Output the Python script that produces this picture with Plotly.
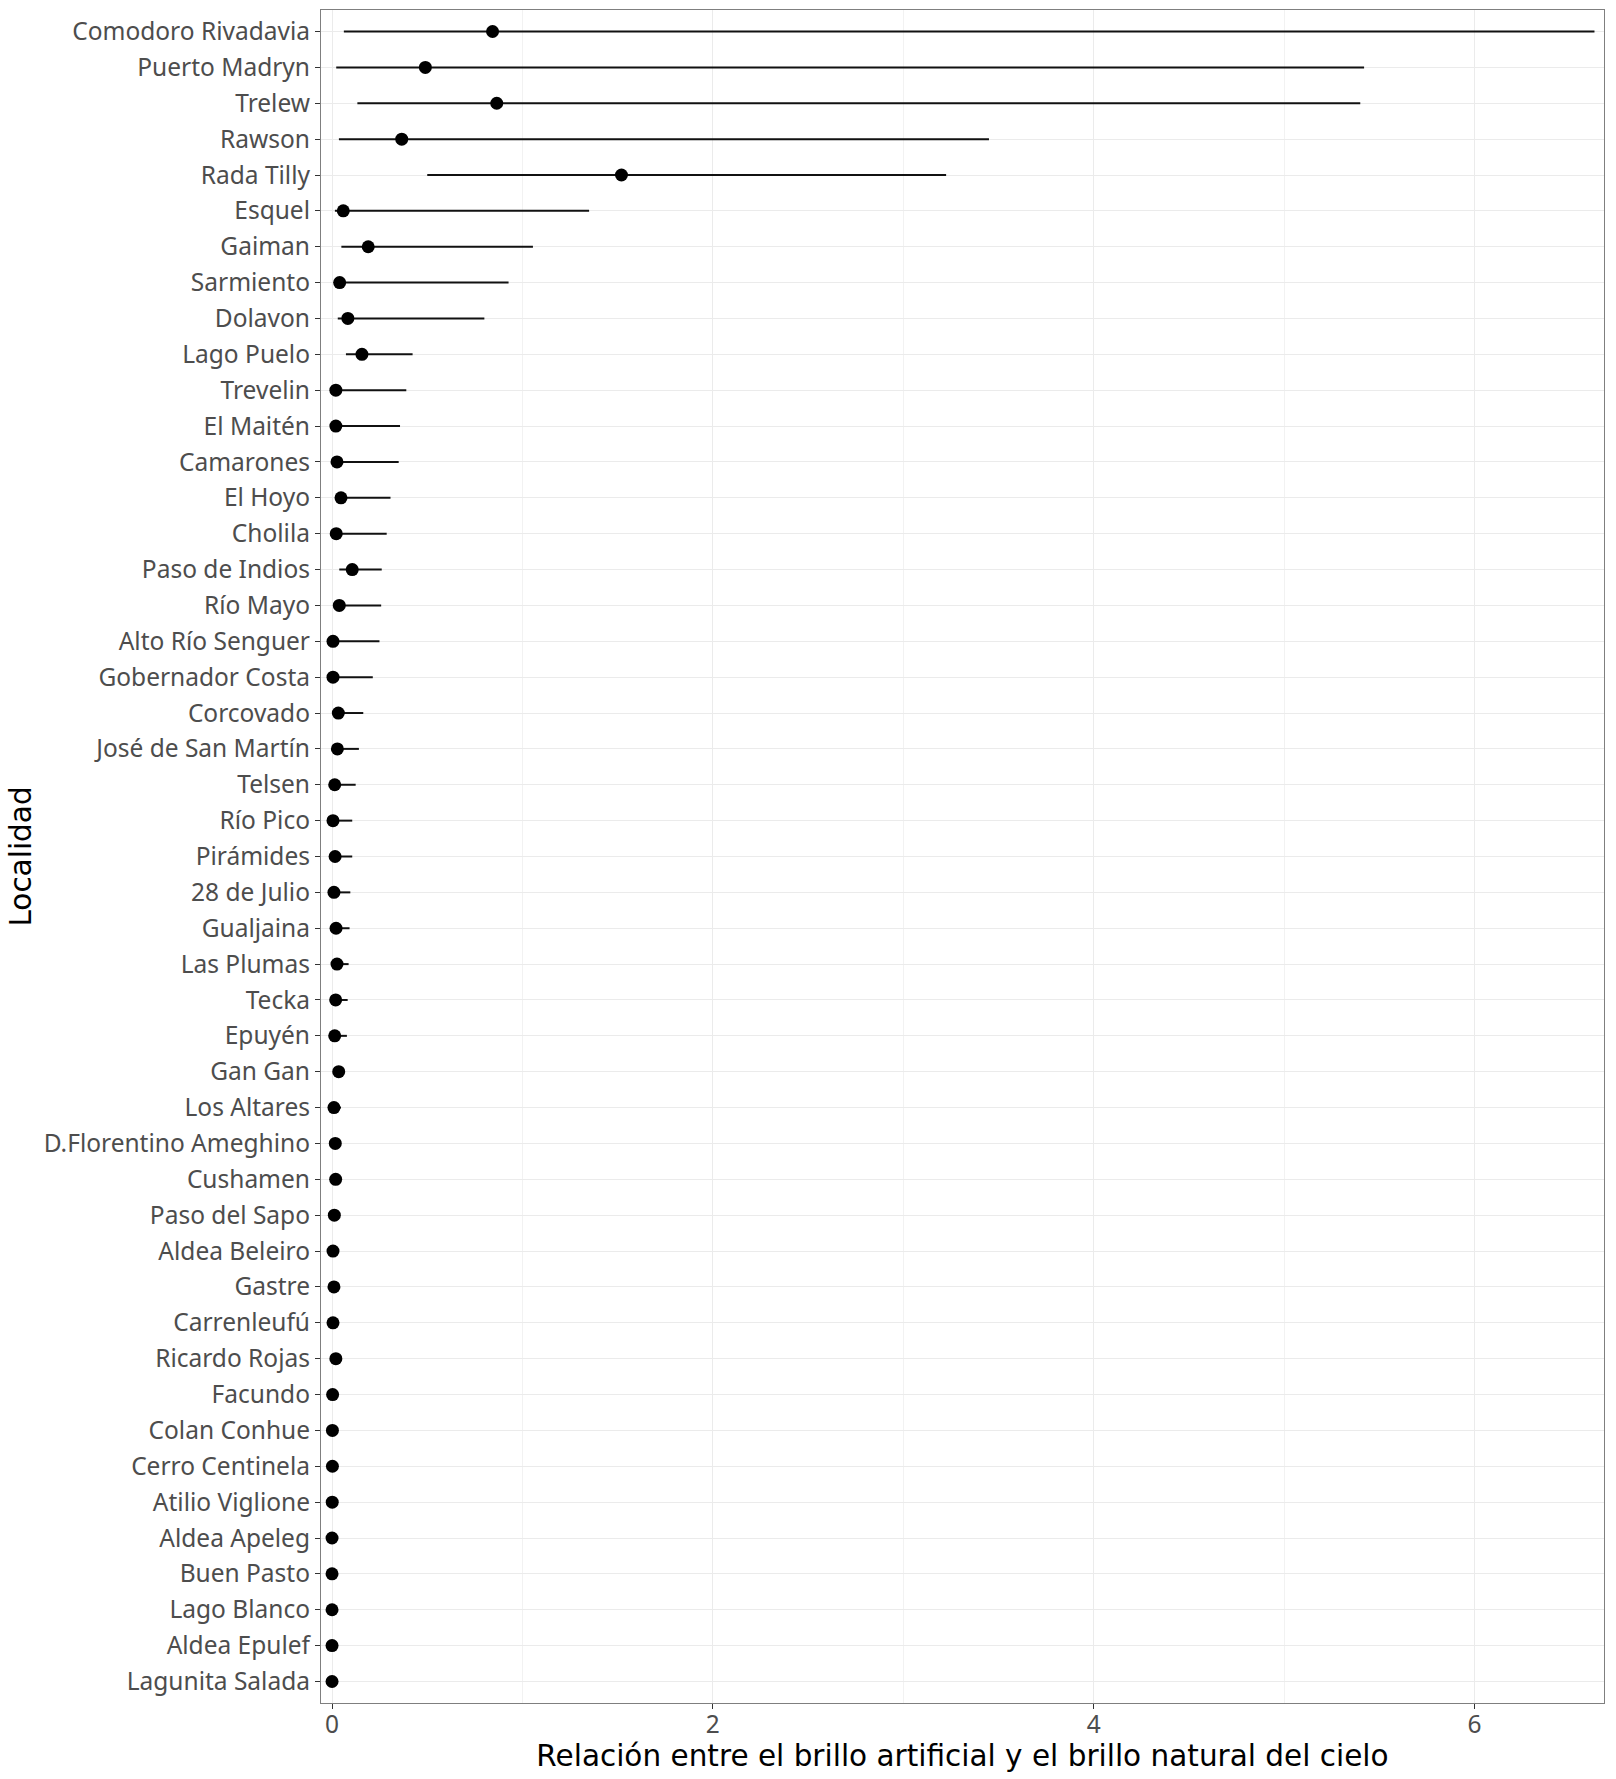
import plotly.graph_objects as go

localidades = [
    "Comodoro Rivadavia", "Puerto Madryn", "Trelew", "Rawson", "Rada Tilly",
    "Esquel", "Gaiman", "Sarmiento", "Dolavon", "Lago Puelo", "Trevelin",
    "El Maitén", "Camarones", "El Hoyo", "Cholila", "Paso de Indios",
    "Río Mayo", "Alto Río Senguer", "Gobernador Costa", "Corcovado",
    "José de San Martín", "Telsen", "Río Pico", "Pirámides", "28 de Julio",
    "Gualjaina", "Las Plumas", "Tecka", "Epuyén", "Gan Gan", "Los Altares",
    "D.Florentino Ameghino", "Cushamen", "Paso del Sapo", "Aldea Beleiro",
    "Gastre", "Carrenleufú", "Ricardo Rojas", "Facundo", "Colan Conhue",
    "Cerro Centinela", "Atilio Viglione", "Aldea Apeleg", "Buen Pasto",
    "Lago Blanco", "Aldea Epulef", "Lagunita Salada",
]

valor = [
    0.843, 0.49, 0.865, 0.366, 1.52,
    0.059, 0.19, 0.04, 0.083, 0.157, 0.02,
    0.02, 0.026, 0.047, 0.022, 0.106,
    0.038, 0.005, 0.005, 0.033,
    0.028, 0.014, 0.005, 0.016, 0.01,
    0.021, 0.026, 0.019, 0.014, 0.035, 0.01,
    0.017, 0.019, 0.012, 0.005,
    0.01, 0.005, 0.02, 0.003, 0.002,
    0.002, 0.001, 0.0, 0.0,
    0.0, 0.0, 0.0,
]

minimo = [
    0.062, 0.022, 0.133, 0.036, 0.50,
    0.015, 0.049, 0.015, 0.03, 0.073, 0.005,
    0.005, 0.008, 0.017, 0.005, 0.038,
    0.007, 0.0, 0.0, 0.015,
    0.012, 0.004, 0.0, 0.005, 0.002,
    0.008, 0.012, 0.008, 0.004, 0.02, 0.002,
    0.008, 0.01, 0.004, 0.001,
    0.004, 0.001, 0.01, 0.0, 0.0,
    0.0, 0.0, 0.0, 0.0,
    0.0, 0.0, 0.0,
]

maximo = [
    6.63, 5.42, 5.40, 3.45, 3.225,
    1.35, 1.055, 0.927, 0.80, 0.423, 0.39,
    0.357, 0.35, 0.307, 0.287, 0.261,
    0.258, 0.249, 0.214, 0.164,
    0.141, 0.124, 0.106, 0.106, 0.096,
    0.092, 0.087, 0.082, 0.078, 0.05, 0.047,
    0.03, 0.03, 0.02, 0.01,
    0.015, 0.01, 0.03, 0.006, 0.005,
    0.005, 0.003, 0.002, 0.002,
    0.002, 0.002, 0.002,
]

x_ticks = [0, 2, 4, 6]
x_title = "Relación entre el brillo artificial y el brillo natural del cielo"
y_title = "Localidad"

err_plus = [h - v for h, v in zip(maximo, valor)]
err_minus = [v - l for v, l in zip(valor, minimo)]

fig = go.Figure()
fig.add_trace(go.Scatter(
    x=valor, y=localidades, mode="markers",
    marker=dict(color="black", size=13),
    error_x=dict(type="data", symmetric=False, array=err_plus,
                 arrayminus=err_minus, width=0, thickness=2, color="#111111"),
    showlegend=False,
))

fig.update_layout(
    width=1616, height=1779,
    margin=dict(l=321, r=12, t=10, b=76),
    paper_bgcolor="white", plot_bgcolor="white",
    font=dict(family="Noto Sans", size=24.5, color="#4D4D4D"),
    xaxis=dict(
        range=[-0.058, 6.68], tickvals=x_ticks, ticktext=[str(t) for t in x_ticks],
        showgrid=True, gridcolor="#EBEBEB", gridwidth=1.2,
        minor=dict(dtick=1, tick0=1, showgrid=True, gridcolor="#F2F2F2", gridwidth=0.8, ticks=""),
        zeroline=False,
        showline=True, linecolor="#7F7F7F", linewidth=1.2, mirror=True,
        ticks="outside", ticklen=5, tickcolor="#333333", tickwidth=1,
        ticklabelstandoff=-6,
        tickfont=dict(family="Noto Sans", size=24.5, color="#4D4D4D"),
        title=dict(text=x_title, font=dict(family="DejaVu Sans", size=29.5, color="black"), standoff=0),
    ),
    yaxis=dict(
        categoryorder="array", categoryarray=localidades[::-1],
        range=[-0.6, len(localidades) - 0.4],
        showgrid=True, gridcolor="#EBEBEB", gridwidth=1.2,
        zeroline=False,
        showline=True, linecolor="#7F7F7F", linewidth=1.2, mirror=True,
        ticks="outside", ticklen=5, tickcolor="#333333", tickwidth=1,
        tickfont=dict(family="Noto Sans", size=24.5, color="#4D4D4D"),
        title=dict(text=y_title, font=dict(family="DejaVu Sans", size=29.5, color="black"), standoff=3),
    ),
)

fig.write_html("out.html")
